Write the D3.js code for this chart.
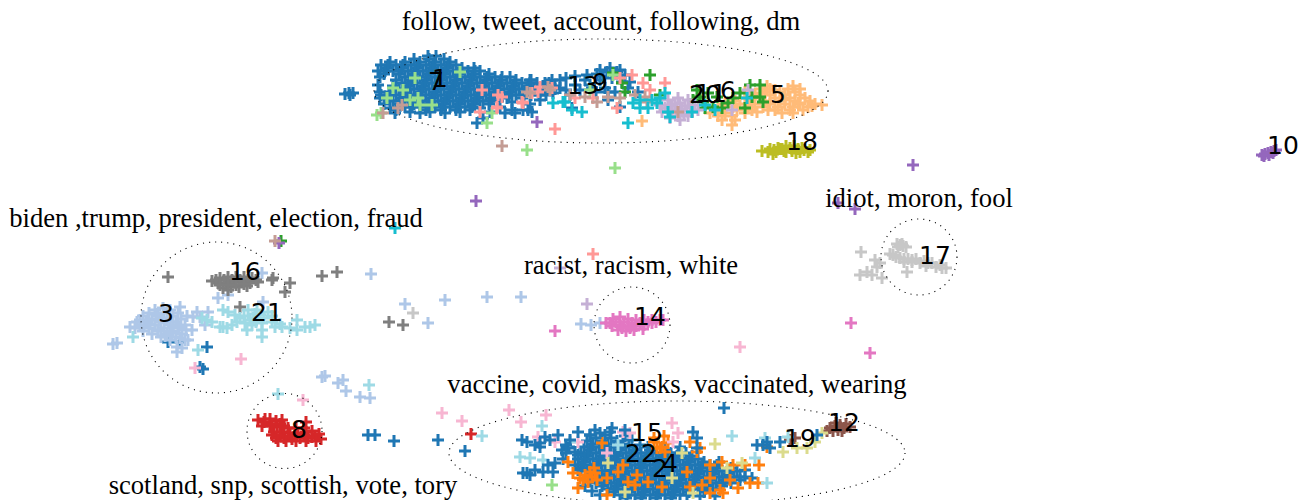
<!DOCTYPE html>
<html>
<head>
<meta charset="utf-8">
<title>Tweet topic clusters</title>
<script src="https://d3js.org/d3.v7.min.js"></script>
<style>
  body { margin: 0; background: #fff; }
  svg { display: block; }
  .caption { font-family: "Liberation Serif", serif; font-size: 26.6px; fill: #000; }
  .label { font-family: "DejaVu Sans", sans-serif; font-size: 25px; fill: #000; }
  .ring { fill: none; stroke: #000; stroke-width: 1.1; stroke-dasharray: 1.1 5; }
</style>
</head>
<body>
<svg width="1302" height="500"></svg>
<script>
// embedding coordinates, one list per cluster
var c1 = [[345,94],[349,93],[353,93],[350,95],[428,56],[436,56],[414,59],[429,59],[444,59],[390,62],[405,62],[420,62],[435,62],[450,62],[381,65],[396,65],[411,65],[426,65],[441,65],[456,65],[387,68],[402,68],[417,68],[432,68],[447,68],[462,68],[474,68],[378,71],[393,71],[408,71],[423,71],[438,71],[453,71],[468,71],[480,71],[384,74],[399,74],[414,74],[429,74],[444,74],[459,74],[474,74],[489,74],[380,77],[405,77],[420,77],[435,77],[450,77],[465,77],[480,77],[495,77],[510,77],[396,80],[411,80],[426,80],[441,80],[456,80],[471,80],[486,80],[501,80],[516,80],[531,80],[402,83],[417,83],[432,83],[447,83],[462,83],[477,83],[492,83],[507,83],[522,83],[537,83],[549,83],[393,86],[408,86],[423,86],[438,86],[453,86],[468,86],[483,86],[498,86],[513,86],[528,86],[543,86],[555,86],[399,89],[414,89],[429,89],[444,89],[459,89],[474,89],[489,89],[504,89],[519,89],[534,89],[549,89],[380,92],[390,92],[405,92],[420,92],[435,92],[450,92],[465,92],[480,92],[495,92],[510,92],[525,92],[540,92],[381,95],[396,95],[411,95],[426,95],[441,95],[456,95],[471,95],[486,95],[501,95],[516,95],[531,95],[546,95],[387,98],[402,98],[417,98],[432,98],[447,98],[462,98],[477,98],[492,98],[507,98],[522,98],[393,101],[408,101],[423,101],[438,101],[453,101],[468,101],[483,101],[498,101],[399,104],[414,104],[429,104],[444,104],[459,104],[474,104],[489,104],[405,107],[420,107],[435,107],[450,107],[465,107],[396,110],[426,110],[441,110],[456,110],[395,113],[430,112],[477,123],[483,118],[500,107],[512,110],[528,110],[505,113],[523,110],[532,112],[515,113],[530,80],[543,90],[553,93],[566,78],[575,76],[587,75],[597,74],[607,72],[617,72],[625,75],[570,95],[580,90],[590,85],[600,80],[612,78],[622,82],[605,88],[615,92],[628,88],[638,92],[608,100],[596,92],[585,80],[620,107],[572,108],[378,85],[380,98],[384,104],[390,108],[410,112],[420,113],[445,113],[460,112],[470,110],[480,108],[490,112],[540,100],[530,104],[512,102],[552,80],[560,88],[388,65],[403,65],[418,65],[433,65],[448,65],[385,71],[400,71],[415,71],[430,71],[445,71],[460,71],[475,71],[412,77],[427,77],[442,77],[457,77],[472,77],[487,77],[502,77],[410,83],[425,83],[440,83],[455,83],[470,83],[485,83],[500,83],[515,83],[530,83],[545,83],[407,89],[422,89],[437,89],[452,89],[467,89],[482,89],[497,89],[512,89],[527,89],[542,89],[555,89],[389,95],[404,95],[419,95],[434,95],[449,95],[464,95],[479,95],[494,95],[509,95],[524,95],[539,95],[400,101],[415,101],[430,101],[445,101],[460,101],[475,101],[490,101],[412,107],[427,107],[442,107],[457,107],[472,107],[600,70],[610,68],[620,70],[592,88],[608,92],[566,90],[560,80],[575,85],[603,76],[630,82]];
var c2 = [[168,342],[180,342],[207,347],[203,369],[200,367],[375,435],[368,435],[394,441],[438,440],[465,451],[724,408],[590,435],[605,435],[596,438],[611,438],[587,441],[602,441],[617,441],[593,444],[608,444],[623,444],[584,447],[599,447],[614,447],[629,447],[680,447],[590,450],[605,450],[620,450],[635,450],[650,450],[665,450],[581,453],[596,453],[611,453],[626,453],[641,453],[656,453],[671,453],[686,453],[587,456],[602,456],[617,456],[632,456],[647,456],[662,456],[677,456],[692,456],[578,459],[593,459],[608,459],[623,459],[638,459],[653,459],[668,459],[683,459],[698,459],[584,462],[599,462],[614,462],[629,462],[644,462],[659,462],[674,462],[689,462],[704,462],[719,462],[575,465],[590,465],[605,465],[620,465],[635,465],[650,465],[665,465],[680,465],[695,465],[710,465],[581,468],[596,468],[611,468],[626,468],[641,468],[656,468],[671,468],[686,468],[701,468],[716,468],[731,468],[587,471],[602,471],[617,471],[632,471],[647,471],[662,471],[677,471],[692,471],[707,471],[722,471],[737,471],[593,474],[608,474],[623,474],[638,474],[653,474],[668,474],[683,474],[698,474],[713,474],[728,474],[599,477],[614,477],[629,477],[644,477],[659,477],[674,477],[689,477],[704,477],[719,477],[734,477],[745,477],[590,480],[605,480],[620,480],[635,480],[650,480],[665,480],[680,480],[695,480],[710,480],[725,480],[740,480],[596,483],[611,483],[626,483],[641,483],[656,483],[671,483],[686,483],[701,483],[716,483],[731,483],[602,486],[617,486],[632,486],[647,486],[662,486],[677,486],[692,486],[707,486],[722,486],[608,489],[623,489],[638,489],[653,489],[668,489],[683,489],[698,489],[713,489],[614,492],[629,492],[644,492],[659,492],[674,492],[689,492],[704,492],[620,495],[635,495],[650,495],[665,495],[680,495],[626,498],[641,498],[656,498],[671,498],[569,447],[566,453],[563,459],[578,470],[585,486],[592,491],[600,495],[700,496],[715,496],[632,440],[640,445],[648,447],[625,436],[745,470],[752,478],[591,447],[606,447],[621,447],[588,453],[603,453],[618,453],[633,453],[648,453],[663,453],[678,453],[585,459],[600,459],[615,459],[630,459],[645,459],[660,459],[675,459],[690,459],[582,465],[597,465],[612,465],[627,465],[642,465],[657,465],[672,465],[687,465],[702,465],[717,465],[594,471],[609,471],[624,471],[639,471],[654,471],[669,471],[684,471],[699,471],[714,471],[729,471],[606,477],[621,477],[636,477],[651,477],[666,477],[681,477],[696,477],[711,477],[726,477],[740,477],[603,483],[618,483],[633,483],[648,483],[663,483],[678,483],[693,483],[708,483],[723,483],[615,489],[630,489],[645,489],[660,489],[675,489],[690,489],[705,489],[627,495],[642,495],[657,495],[672,495],[687,495]];
var c3 = [[155,310],[170,310],[149,313],[164,313],[178,313],[143,316],[158,316],[173,316],[152,319],[167,319],[181,319],[146,322],[161,322],[176,322],[140,325],[155,325],[170,325],[185,325],[149,328],[164,328],[179,328],[143,331],[158,331],[173,331],[152,334],[167,334],[182,334],[161,337],[176,337],[170,340],[185,340],[180,307],[130,327],[137,322],[113,344],[117,343],[177,347],[177,352],[188,340],[182,348],[193,317],[200,317],[197,312],[205,325],[192,330],[208,312],[218,298],[228,295],[262,273],[263,302],[322,377],[371,274],[405,304],[428,323],[325,376],[338,383],[343,380],[346,391],[360,397],[370,398],[445,300],[487,297],[521,297],[581,324],[591,325],[600,323],[148,320],[156,314],[163,318],[170,322],[178,326],[186,330],[150,324],[158,330],[165,336],[172,333],[180,338],[140,320],[144,326],[135,328],[163,308],[187,316],[159,320],[173,327]];
var c4 = [[592,477],[585,475],[595,473],[597,480],[568,462],[573,473],[580,478],[607,478],[623,465],[602,443],[662,447],[665,452],[657,448],[668,443],[697,452],[687,472],[710,465],[710,478],[702,485],[733,465],[730,480],[720,490],[750,483],[758,483],[759,465],[767,447],[637,475],[648,482],[635,485],[607,495],[578,488],[662,487],[690,487],[710,493],[723,493],[690,442],[700,448],[660,448],[654,438],[664,436],[590,472],[588,482],[594,468],[583,480],[618,472],[628,482],[745,465],[722,462],[738,488],[654,442]];
var c5 = [[642,121],[767,86],[793,86],[770,89],[760,89],[788,89],[800,89],[745,92],[765,92],[780,92],[795,92],[755,95],[770,95],[785,95],[800,95],[745,98],[760,98],[775,98],[790,98],[805,98],[735,101],[750,101],[765,101],[780,101],[795,101],[810,101],[725,104],[740,104],[755,104],[770,104],[785,104],[800,104],[815,104],[718,107],[733,107],[748,107],[763,107],[778,107],[793,107],[808,107],[822,105],[722,110],[737,110],[752,110],[775,110],[790,110],[803,110],[710,113],[725,113],[745,113],[793,113],[718,116],[732,116],[722,120],[735,120],[732,125],[762,93],[775,90],[785,100],[798,103],[812,106],[768,110],[782,113],[757,112]];
var c6 = [[650,75],[613,73],[622,83],[625,92],[660,95],[697,90],[693,100],[717,97],[722,108],[740,93],[750,85],[760,85],[760,97],[763,102],[752,97],[733,98],[708,93],[703,102],[713,107],[281,241],[700,97],[705,108],[728,103],[745,108]];
var c7 = [[377,115],[381,113],[387,98],[403,90],[410,100],[418,98],[420,105],[393,88],[415,78],[460,72],[492,113],[487,123],[527,150],[615,168],[432,105],[613,75],[590,90],[552,485]];
var c8 = [[258,420],[264,422],[270,419],[276,421],[282,420],[262,426],[270,426],[277,427],[284,426],[274,432],[282,432],[290,433],[298,433],[306,432],[276,438],[284,438],[292,439],[300,438],[308,438],[315,436],[321,439],[312,431],[306,422],[319,434],[471,434],[265,419],[272,424],[280,424],[288,428],[296,428],[304,428],[272,435],[280,435],[288,436],[296,436],[304,435],[312,437],[316,441],[306,441],[296,441],[286,441],[278,441]];
var c9 = [[632,75],[620,78],[643,83],[665,83],[650,90],[617,108],[555,129],[498,95],[502,97],[480,112],[482,90],[497,107],[523,103],[540,87],[538,92],[575,98],[593,98],[522,102],[552,88],[532,93],[497,108],[593,254]];
var c10 = [[1262,155],[1265,154],[1268,153],[1271,152],[1274,151],[1264,156],[1269,155],[1273,153],[1276,150],[537,122],[476,201],[913,165],[838,203],[855,209],[279,243]];
var c11 = [[668,100],[678,98],[688,100],[665,108],[675,104],[685,106],[695,105],[672,112],[682,110],[692,112],[678,116],[688,116],[680,120],[662,112],[732,110],[748,90],[587,304],[560,268],[670,105],[680,103],[690,108],[676,110],[684,114],[672,106],[660,105],[698,110],[670,118]];
var c12 = [[830,428],[835,426],[840,425],[846,424],[833,431],[838,430],[844,428],[850,427],[795,438],[790,440],[827,431],[836,423],[842,431]];
var c13 = [[383,113],[502,146],[530,93],[550,90],[570,95],[585,97],[597,102],[608,97],[620,98],[635,95],[645,97],[647,102],[678,112],[527,92],[402,105],[398,108],[548,87],[275,241]];
var c14 = [[606,323],[613,319],[620,317],[628,319],[636,320],[644,320],[652,320],[660,320],[612,326],[620,325],[628,326],[636,326],[644,325],[652,323],[618,330],[626,331],[634,330],[643,329],[555,331],[851,323],[870,353],[616,322],[624,322],[632,323],[640,323],[648,322],[656,322],[663,320],[610,323],[622,328],[630,328]];
var c15 = [[442,413],[462,421],[509,410],[546,415],[521,422],[672,423],[555,442],[538,437],[578,442],[623,432],[630,433],[678,433],[607,453],[673,442],[195,368],[241,359],[740,347],[303,400]];
var c16 = [[212,281],[220,278],[228,277],[236,277],[244,277],[252,278],[218,283],[226,283],[234,282],[242,282],[250,283],[258,282],[223,288],[231,287],[239,287],[247,286],[228,290],[168,277],[273,278],[272,280],[290,283],[285,292],[240,307],[322,276],[337,272],[389,322],[403,325],[216,280],[224,280],[232,280],[240,280],[248,280],[256,280],[228,285],[236,285],[244,284],[220,285]];
var c17 = [[897,244],[900,245],[903,246],[906,247],[893,255],[900,258],[908,259],[916,259],[924,261],[932,263],[940,265],[946,268],[904,262],[912,262],[920,263],[936,267],[861,252],[875,260],[880,263],[890,254],[867,272],[860,275],[872,275],[882,278],[877,267],[907,272],[413,313],[896,257],[904,259],[912,260],[928,263],[926,266],[942,268],[898,247],[902,244]];
var c18 = [[762,151],[770,149],[778,148],[786,146],[794,146],[802,148],[810,150],[768,152],[776,152],[784,151],[792,151],[800,152],[808,152],[780,149],[790,148],[798,149],[773,154],[774,150],[782,149],[786,152],[796,153],[804,150]];
var c19 = [[715,444],[783,452],[797,448],[807,448],[822,433],[815,442],[608,463],[682,453],[693,493],[625,492],[727,468],[742,463],[672,478]];
var c20 = [[553,103],[565,102],[582,112],[628,123],[633,103],[648,108],[660,98],[657,103],[668,112],[670,117],[665,93],[692,112],[705,105],[747,98],[572,110],[563,102],[395,228],[640,100],[652,100],[640,108],[715,110]];
var c21 = [[202,318],[207,320],[212,322],[220,327],[227,328],[228,312],[235,315],[223,310],[240,318],[248,310],[253,318],[245,323],[247,330],[262,323],[262,337],[268,312],[272,322],[282,327],[290,328],[297,320],[297,330],[310,327],[305,327],[315,325],[232,325],[260,315],[275,327],[223,327],[237,322],[252,325],[257,310],[198,350],[133,337],[369,385],[278,394],[482,436],[542,426],[520,457],[530,458],[543,460],[732,436],[755,458],[767,483],[765,438],[788,437],[618,445],[570,442],[244,316],[250,320],[256,322],[264,318],[272,316],[280,324],[255,314],[262,330]];
var c22 = [[527,442],[540,447],[543,472],[530,475],[523,473],[562,450],[578,455],[553,472],[590,435],[610,432],[600,433],[693,432],[697,438],[697,448],[757,445],[767,442],[763,445],[780,442],[770,448],[817,435],[522,440],[540,443],[575,452],[527,473],[555,463],[535,445],[550,440],[558,435],[568,448],[570,440],[578,432],[595,430],[612,428],[625,430],[535,470],[545,437],[566,445],[548,465]];

var clusters = [c1,c2,c3,c4,c5,c6,c7,c8,c9,c10,c11,c12,c13,c14,c15,c16,c17,c18,c19,c20,c21,c22];
var clusterColors = ["#1f77b4","#1f77b4","#aec7e8","#ff7f0e","#ffbb78","#2ca02c","#98df8a","#d62728","#ff9896","#9467bd","#c5b0d5","#8c564b","#c49c94","#e377c2","#f7b6d2","#7f7f7f","#c7c7c7","#bcbd22","#dbdb8d","#17becf","#9edae5","#1f77b4"];

// number at each cluster centre
var labelNames = ["1","2","3","4","5","6","7","8","9","10","11","12","13","14","15","16","17","18","19","20","21","22"];
var labelX = [440,660,166,670,778,728,436,299,600,1283,711,844,583,650,647,245,935,802,800,705,267,641];
var labelY = [87,477,322,472,103,99,90,438,91,154,102,431,94,325,441,280,264,150,447,103,321,462];

// topic rings and their top words
var ringCx = [601,677,216.5,284.5,632,919];
var ringCy = [91,453,317.5,431,325,257];
var ringRx = [227,228,75.5,37.5,38,38];
var ringRy = [52,52,75.5,37.5,38,38];
var captionText = ["follow, tweet, account, following, dm","vaccine, covid, masks, vaccinated, wearing","biden ,trump, president, election, fraud","scotland, snp, scottish, vote, tory","racist, racism, white","idiot, moron, fool"];
var captionX = [601,677,216,283,631,919];
var captionY = [30,393,227,494,274,207];

var svg = d3.select("svg"),
    width = +svg.attr("width"),
    height = +svg.attr("height");

var x = d3.scaleLinear().domain([0, 1302]).range([0, width]);
var y = d3.scaleLinear().domain([0, 500]).range([0, height]);

var plus = d3.path();
plus.moveTo(-6, 0); plus.lineTo(6, 0);
plus.moveTo(0, -6); plus.lineTo(0, 6);

svg.selectAll("g.cluster")
    .data(clusters)
    .enter().append("g")
    .attr("class", "cluster")
    .attr("stroke", function (d, i) { return clusterColors[i]; })
    .attr("stroke-width", 3)
    .attr("fill", "none")
    .selectAll("path")
    .data(function (d) { return d; })
    .enter().append("path")
    .attr("d", plus.toString())
    .attr("transform", function (d) { return "translate(" + x(d[0]) + "," + y(d[1]) + ")"; });

svg.selectAll("ellipse.ring")
    .data(ringCx)
    .enter().append("ellipse")
    .attr("class", "ring")
    .attr("cx", function (d) { return x(d); })
    .attr("cy", function (d, i) { return y(ringCy[i]); })
    .attr("rx", function (d, i) { return ringRx[i]; })
    .attr("ry", function (d, i) { return ringRy[i]; });

svg.selectAll("text.label")
    .data(labelNames)
    .enter().append("text")
    .attr("class", "label")
    .attr("text-anchor", "middle")
    .attr("x", function (d, i) { return x(labelX[i]); })
    .attr("y", function (d, i) { return y(labelY[i]); })
    .text(function (d) { return d; });

svg.selectAll("text.caption")
    .data(captionText)
    .enter().append("text")
    .attr("class", "caption")
    .attr("text-anchor", "middle")
    .attr("x", function (d, i) { return x(captionX[i]); })
    .attr("y", function (d, i) { return y(captionY[i]); })
    .text(function (d) { return d; });
</script>
</body>
</html>
